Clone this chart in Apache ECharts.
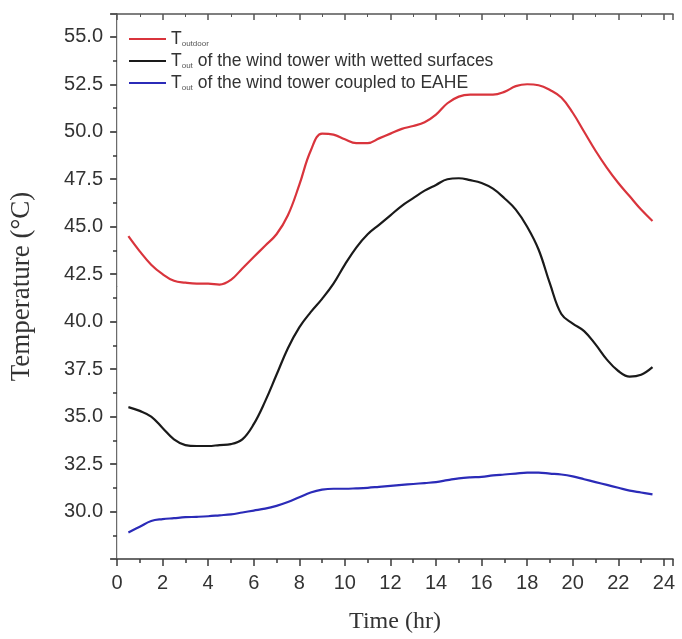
<!DOCTYPE html>
<html style="width:100%;height:100%;">
<head>
	<meta charset="UTF-8">
	<title>Wind tower temperature</title>
	<script src="https://cdn.jsdelivr.net/npm/echarts@6/dist/echarts.min.js"></script>
</head>
<body style="width:100%;height:100%;margin:0;padding:0;background:#fff;">
	<div id="chart" style="width:682px;height:639px;"></div>
	<script>
		// hours of the day
		var hours = [0.5, 1, 1.5, 2, 2.5, 3, 3.5, 4, 4.5, 5, 5.5, 6, 6.5, 7, 7.5, 8, 8.5, 9, 9.5, 10, 10.5, 11, 11.5, 12,
			12.5, 13, 13.5, 14, 14.5, 15, 15.5, 16, 16.5, 17, 17.5, 18, 18.5, 19, 19.5, 20, 20.5, 21, 21.5, 22, 22.5, 23, 23.5];
		// T outdoor
		var tOutdoor = [44.5, 43.7, 43.0, 42.5, 42.15, 42.05, 42.0, 42.0, 41.95, 42.2, 42.8, 43.4, 44.0, 44.6, 45.6, 47.2,
			49.0, 49.9, 49.85, 49.6, 49.4, 49.4, 49.65, 49.9, 50.15, 50.3, 50.5, 50.9, 51.5, 51.85, 51.95, 51.95, 51.95, 52.1,
			52.4, 52.5, 52.45, 52.2, 51.8, 51.0, 50.0, 49.0, 48.1, 47.3, 46.6, 45.9, 45.3];
		// T out, wetted surfaces
		var tWetted = [35.5, 35.3, 35.0, 34.4, 33.8, 33.5, 33.45, 33.45, 33.5, 33.55, 33.8, 34.6, 35.8, 37.2, 38.6, 39.7,
			40.5, 41.2, 42.0, 43.0, 43.9, 44.6, 45.1, 45.6, 46.1, 46.5, 46.9, 47.2, 47.5, 47.55, 47.45, 47.3, 47.0, 46.5,
			45.9, 45.0, 43.8, 42.0, 40.4, 39.9, 39.5, 38.8, 38.0, 37.4, 37.1, 37.2, 37.6];
		// T out, coupled to EAHE
		var tEahe = [28.9, 29.2, 29.5, 29.6, 29.65, 29.7, 29.72, 29.75, 29.8, 29.85, 29.95, 30.05, 30.15, 30.3, 30.5, 30.75,
			31.0, 31.15, 31.2, 31.2, 31.22, 31.25, 31.3, 31.35, 31.4, 31.45, 31.5, 31.55, 31.65, 31.75, 31.8, 31.82, 31.9,
			31.95, 32.0, 32.05, 32.05, 32.0, 31.95, 31.85, 31.7, 31.55, 31.4, 31.25, 31.1, 31.0, 30.9];

		function pairs(ys) {
			var out = [];
			for (var i = 0; i < hours.length; i++) out.push([hours[i], ys[i]]);
			return out;
		}

		var labelFont = 'Liberation Sans';
		var serifFont = 'Liberation Serif';
		var axisColor = '#3a3a3a';
		// legend text: T with a small subscript
		var sub = {
			b: { fontFamily: labelFont, fontSize: 17.5, color: '#333', lineHeight: 18 },
			s: { fontFamily: labelFont, fontSize: 8, color: '#555', lineHeight: 18, verticalAlign: 'bottom' }
		};

		var myChart = echarts.init(document.getElementById('chart'));
		var option = {
			animation: false,
			grid: { left: 116, right: 9, top: 14, bottom: 77 },
			legend: {
				left: 124,
				top: 25,
				orient: 'vertical',
				icon: 'rect',
				itemWidth: 37,
				itemHeight: 2,
				itemGap: 4,
				data: ['outdoor', 'wetted', 'eahe'],
				formatter: function(name) {
					if (name === 'outdoor') return '{b|T}{s|outdoor}';
					if (name === 'wetted') return '{b|T}{s|out}{b| of the wind tower with wetted surfaces}';
					return '{b|T}{s|out}{b| of the wind tower coupled to EAHE}';
				},
				textStyle: { rich: sub }
			},
			xAxis: [{
				type: 'value',
				min: 0,
				max: 24.4,
				interval: 2,
				name: 'Time (hr)',
				nameLocation: 'middle',
				nameGap: 51,
				nameTextStyle: { fontFamily: serifFont, fontSize: 24, color: '#333' },
				axisLine: { lineStyle: { color: axisColor, width: 1.5 } },
				axisTick: { inside: false, length: 7, lineStyle: { color: axisColor, width: 1.5 } },
				minorTick: { show: true, splitNumber: 2, length: 4, lineStyle: { color: axisColor, width: 1.5 } },
				axisLabel: {
					fontFamily: labelFont, fontSize: 20, color: '#333', margin: 14,
					formatter: function(v) { return v % 2 === 0 ? String(v) : ''; }
				},
				splitLine: { show: false }
			}, {
				type: 'value',
				position: 'top',
				min: 0,
				max: 24.4,
				interval: 2,
				axisLine: { show: true, lineStyle: { color: '#555', width: 1.5 } },
				axisTick: { inside: true, length: 6, lineStyle: { color: '#555', width: 1.5 } },
				minorTick: { show: true, splitNumber: 2, length: 3, lineStyle: { color: '#555' } },
				axisLabel: { show: false },
				splitLine: { show: false }
			}],
			yAxis: [{
				type: 'value',
				min: 27.5,
				max: 56.2,
				interval: 2.5,
				name: 'Temperature (°C)',
				nameLocation: 'middle',
				nameGap: 82,
				nameTextStyle: { fontFamily: serifFont, fontSize: 27, color: '#333' },
				axisLine: { show: true, lineStyle: { color: axisColor, width: 1.5 } },
				axisTick: { show: true, inside: false, length: 7, lineStyle: { color: axisColor, width: 1.5 } },
				minorTick: { show: true, splitNumber: 2, length: 4, lineStyle: { color: axisColor, width: 1.5 } },
				axisLabel: {
					fontFamily: labelFont, fontSize: 20, color: '#333', margin: 14,
					showMinLabel: false, showMaxLabel: false,
					formatter: function(v) { return v.toFixed(1); }
				},
				splitLine: { show: false }
			}, {
				type: 'value',
				position: 'right',
				min: 27.5,
				max: 56.2,
				interval: 2.5,
				axisLine: { show: true, lineStyle: { color: '#ddd', width: 1 } },
				axisTick: { show: true, inside: true, length: 6, lineStyle: { color: '#555', width: 1.5 } },
				axisLabel: { show: false },
				splitLine: { show: false }
			}],
			series: [{
				name: 'outdoor',
				type: 'line',
				smooth: 0.4,
				showSymbol: false,
				data: pairs(tOutdoor),
				lineStyle: { color: '#d9343c', width: 2.2 },
				itemStyle: { color: '#d9343c' }
			}, {
				name: 'wetted',
				type: 'line',
				smooth: 0.4,
				showSymbol: false,
				data: pairs(tWetted),
				lineStyle: { color: '#1a1a1a', width: 2.2 },
				itemStyle: { color: '#1a1a1a' }
			}, {
				name: 'eahe',
				type: 'line',
				smooth: 0.4,
				showSymbol: false,
				data: pairs(tEahe),
				lineStyle: { color: '#2b2bb8', width: 2.2 },
				itemStyle: { color: '#2b2bb8' }
			}]
		};
		myChart.setOption(option);
	</script>
</body>
</html>
